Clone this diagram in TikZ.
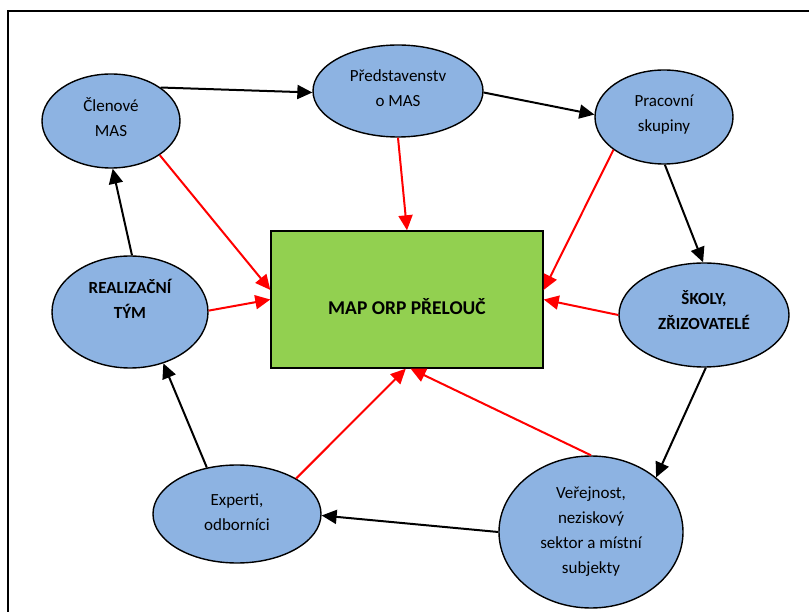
\documentclass[tikz,border=0pt]{standalone}
\usepackage{fontspec}
\setmainfont{Carlito}
\usetikzlibrary{shapes.geometric,arrows.meta}
\definecolor{ellfill}{HTML}{8DB3E2}
\definecolor{mapgreen}{HTML}{92D050}
\begin{document}
\begin{tikzpicture}[x=1pt,y=-1pt,
  oval/.style={ellipse,draw=black,line width=1.4pt,fill=ellfill,inner sep=0pt},
  txt/.style={align=center,inner sep=0pt,font=\fontsize{17}{25}\selectfont},
  boldtxt/.style={txt,font=\fontsize{17}{25}\selectfont\bfseries},
  blk/.style={draw=black,line width=2pt,-{Triangle[length=15pt,width=14pt]}},
  rd/.style={draw=red,line width=2pt,-{Triangle[length=15pt,width=14pt]}}]
\useasboundingbox (0,0) rectangle (809,612);
\draw[line width=1.5pt] (8,612) -- (8,11) -- (809,11);

\node[oval,minimum width=138pt,minimum height=94pt] (cl) at (111,121) {};
\node[txt] (clt) at ([yshift=4pt]cl.center) {Členové\\MAS};
\node[oval,minimum width=170pt,minimum height=92pt] (pr) at (398,91) {};
\node[txt] (prt) at ([yshift=3pt]pr.center) {Představenstv\\o MAS};
\node[oval,minimum width=138pt,minimum height=94pt] (pk) at (664,117) {};
\node[txt] (pkt) at ([yshift=2pt]pk.center) {Pracovní\\skupiny};
\node[oval,minimum width=170pt,minimum height=104pt] (sk) at (704,315) {};
\node[boldtxt] (skt) at ([yshift=5pt]sk.center) {ŠKOLY,\\ZŘIZOVATELÉ};
\node[oval,minimum width=184pt,minimum height=152pt] (ve) at (591,532) {};
\node[txt] (vet) at (ve.center) {Veřejnost,\\neziskový\\sektor a místní\\subjekty};
\node[oval,minimum width=168pt,minimum height=98pt] (ex) at (237,514) {};
\node[txt] (ext) at ([yshift=2pt]ex.center) {Experti,\\odborníci};
\node[oval,minimum width=156pt,minimum height=112pt] (re) at (130,312) {};
\node[boldtxt] (ret) at ([yshift=13pt]re.center) {REALIZAČNÍ\\TÝM};
\node[draw=black,line width=1.4pt,fill=mapgreen,minimum width=272pt,minimum height=137pt,inner sep=0pt] (map) at (407,299.5) {};
\node[inner sep=0pt,font=\fontsize{19.5}{24}\selectfont\bfseries] (mapt) at ([yshift=-7pt]map.center) {MAP ORP PŘELOUČ};

% black cycle
\draw[blk] (cl.34) -- (pr.181);
\draw[blk] (pr.359) -- (pk.178);
\draw[blk] (pk.271) -- (sk.91);
\draw[blk] (sk.272) -- (ve.40);
\draw[blk] (ve.180) -- (ex.359);
\draw[blk] (ex.123) -- (re.303);
\draw[blk] (re.88) -- (cl.272);

% red to map
\draw[rd] (cl.325) -- (map.176);
\draw[rd] (re.1) -- (map.180);
\draw[rd] (pr.270) -- (map.90);
\draw[rd] (pk.213) -- (map.4);
\draw[rd] (sk.180) -- (map.0);
\draw[rd] (ex.31) -- (map.269);
\draw[rd] (ve.90) -- (map.273);
\end{tikzpicture}
\end{document}
